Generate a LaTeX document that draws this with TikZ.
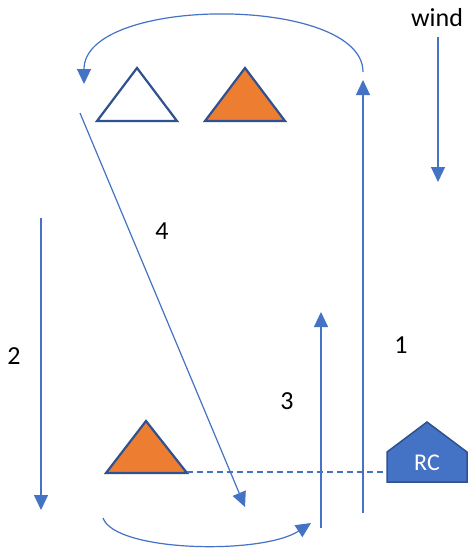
\documentclass[tikz,border=0pt]{standalone}
\usepackage{fontspec}
\setmainfont{Carlito}
\usetikzlibrary{arrows.meta}
\definecolor{lineblue}{HTML}{4472C4}
\definecolor{darkblue}{HTML}{2F528F}
\definecolor{orange1}{HTML}{ED7D31}
\begin{document}
\begin{tikzpicture}[x=1pt,y=-1pt,
  flow/.style={draw=lineblue,line width=1.2pt,-{Triangle[length=15pt,width=14pt]}},
  tri/.style={draw=darkblue,line width=2.2pt,line join=miter},
  lbl/.style={font=\fontsize{26}{30}\selectfont,text=black,inner sep=0pt}]
\useasboundingbox[fill=white] (0,0) rectangle (468,551);
% coordinates
\coordinate (a1s) at (363,513); \coordinate (a1e) at (363,80);
\coordinate (tarcS) at (363,72); \coordinate (tarcE) at (84,84);
\coordinate (a2s) at (41,218); \coordinate (a2e) at (41,510);
\coordinate (a3s) at (321,528); \coordinate (a3e) at (321,312);
\coordinate (a4s) at (80,113); \coordinate (a4e) at (245,507);
\coordinate (barcS) at (103,518); \coordinate (barcE) at (311,523);
\coordinate (ws) at (438,37); \coordinate (we) at (438,182);
% triangles
\draw[tri,fill=white] (97,121) -- (137,68) -- (177,121) -- cycle;
\draw[tri,fill=orange1] (205,121) -- (245,68) -- (285,121) -- cycle;
\draw[tri,fill=orange1] (106,473) -- (146,421) -- (187,473) -- cycle;
% RC house
\draw[draw=darkblue,line width=1.5pt,fill=lineblue] (387,482) -- (387,452) -- (427,422) -- (467,452) -- (467,482) -- cycle;
\node[font=\fontsize{24}{28}\selectfont,text=white,inner sep=0pt] (rctext) at (427,463) {RC};
\coordinate (rcl) at (387,472);
\coordinate (tril) at (187,472);
\draw[draw=lineblue,line width=1.5pt,dash pattern=on 6pt off 4pt] (tril) -- (rcl);
% arrows
\draw[flow] (a1s) -- (a1e);
\draw[flow] (tarcS) .. controls (363,-5) and (84,-5) .. (tarcE);
\draw[flow] (a2s) -- (a2e);
\draw[flow] (a3s) -- (a3e);
\draw[flow] (a4s) -- (a4e);
\draw[flow] (barcS) .. controls (115,552) and (262,555) .. (barcE);
\draw[flow] (ws) -- (we);
% labels
\node[lbl] (wind) at (437,18) {wind};
\node[lbl] (l1) at (401,345) {1};
\node[lbl] (l2) at (14,356) {2};
\node[lbl] (l3) at (287,401) {3};
\node[lbl] (l4) at (162,231) {4};
\end{tikzpicture}
\end{document}
